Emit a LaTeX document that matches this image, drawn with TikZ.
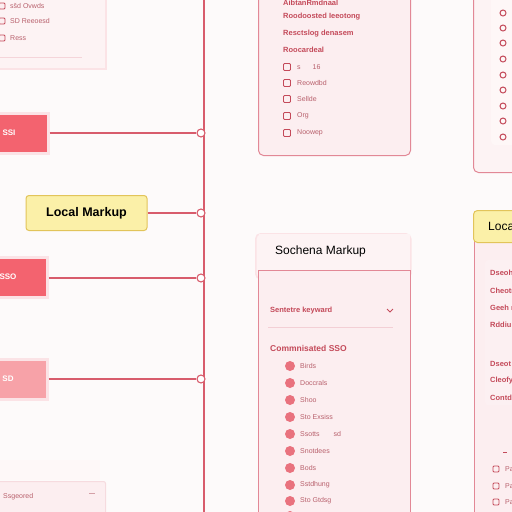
\documentclass[tikz,border=0pt]{standalone}
\usepackage{fontspec}
\setmainfont{Liberation Sans}
\definecolor{bg}{HTML}{FDFAFA}
\definecolor{lred}{HTML}{D85C6C}
\definecolor{tred}{HTML}{C44A5A}
\definecolor{tgray}{HTML}{B8606C}
\definecolor{card}{HTML}{FCEEF0}
\definecolor{cardl}{HTML}{FDF3F4}
\definecolor{cardb}{HTML}{E28896}
\definecolor{boxr}{HTML}{F3636F}
\definecolor{boxp}{HTML}{F7A2A8}
\definecolor{yel}{HTML}{FBF0A8}
\definecolor{yelb}{HTML}{E2C45A}
\definecolor{icon}{HTML}{E9727E}
\definecolor{halo}{HTML}{FBE3E6}
\tikzset{
  conn/.style={draw=lred, line width=1.2pt},
  dot/.style={circle, draw=lred, fill=white, line width=1.1pt, minimum size=8pt, inner sep=0pt},
  redbox/.style={fill=boxr, draw=halo, line width=3pt, minimum height=40pt, minimum width=78pt, inner sep=0pt, text=white, font=\fontsize{8}{9}\selectfont\bfseries},
  yelbox/.style={fill=yel, draw=yelb, line width=1pt, rounded corners=3pt, minimum width=121pt, minimum height=35pt, font=\fontsize{12.5}{14}\selectfont\bfseries},
  cardbox/.style={fill=card, draw=cardb, line width=1pt, rounded corners=5pt},
  lightcard/.style={fill=cardl, draw=halo, line width=1.5pt},
  sm/.style={anchor=west, inner sep=0pt, text=tred, font=\fontsize{7.5}{9}\selectfont\bfseries},
  smg/.style={anchor=west, inner sep=0pt, text=tgray, font=\fontsize{7}{9}\selectfont},
  sqicon/.style={draw=tred, fill=card, line width=0.9pt, minimum size=7pt, inner sep=0pt, rounded corners=1pt},
  rdicon/.style={circle, fill=icon, minimum size=10pt, inner sep=0pt},
  oicon/.style={circle, draw=tred, line width=1pt, minimum size=6pt, inner sep=0pt},
  chev/.style={draw=tred, line width=0.8pt}
}
\begin{document}
\begin{tikzpicture}[x=1pt,y=-1pt]
\useasboundingbox (0,0) rectangle (512,512);
\fill[bg] (0,0) rectangle (512,512);

% vertical spine
\coordinate (vt) at (204,-2);
\coordinate (vb) at (204,514);
\draw[conn] (vt) -- (vb);

% top-left card
\node[lightcard, minimum width=115pt, minimum height=78pt, anchor=north west] (tl) at (-10,-10) {};
\node[sqicon, minimum size=6pt] (tli1) at (2,6) {};
\node[smg] (tlt1) at (10,6) {sšd Ovwds};
\node[sqicon, minimum size=6pt] (tli2) at (2,21) {};
\node[smg] (tlt2) at (10,21) {SD Reeoesd};
\node[sqicon, minimum size=6pt] (tli3) at (2,38) {};
\node[smg] (tlt3) at (10,38) {Ress};
\coordinate (tla) at (0,57);
\coordinate (tlb) at (82,57);
\draw[draw=cardb!35, line width=0.6pt] (tla) -- (tlb);

% left boxes
\node[redbox] (r1) at (9,133) {SSI};
\node[yelbox] (lm) at (86.5,213) {Local Markup};
\node[redbox] (r2) at (8,277) {SSO};
\node[redbox, fill=boxp] (r3) at (8,379) {SD};

% circles and connectors
\node[dot] (c1) at (201,133) {};
\node[dot] (c2) at (201,213) {};
\node[dot] (c3) at (201,278) {};
\node[dot] (c4) at (201,379) {};
\draw[conn] (r1.east) -- (c1);
\draw[conn] (lm.east) -- (c2);
\draw[conn] (r2.east |- c3) -- (c3);
\draw[conn] (r3.east) -- (c4);

% bottom-left card
\node[fill=cardl!60!white, minimum width=110pt, minimum height=20pt, anchor=north west] (bl0) at (-10,460) {};
\node[cardbox, draw=cardb!30, rounded corners=2pt, minimum width=115pt, minimum height=40pt, anchor=north west] (bl) at (-10,481) {};
\node[smg] (blt) at (3,497) {Ssgeored};
\coordinate (blc1) at (89,493);
\coordinate (blc2) at (95,493);
\draw[chev, draw=tgray!60] (blc1) -- (blc2);

% top-middle card
\node[cardbox, minimum width=152pt, minimum height=165pt, anchor=north west] (tm) at (258,-10) {};
\node[sm] (tm1) at (283,3) {AibtanRmdnaal};
\node[sm] (tm2) at (283,17) {Roodoosted Ieeotong};
\node[sm] (tm3) at (283,34) {Resctslog denasem};
\node[sm] (tm4) at (283,50) {Roocardeal};
\node[sqicon] (tmi5) at (287,67) {};
\node[smg] (tm5) at (297,67) {s\hspace{12pt}16};
\node[sqicon] (tmi6) at (287,83) {};
\node[smg] (tm6) at (297,83) {Reowdbd};
\node[sqicon] (tmi7) at (287,99) {};
\node[smg] (tm7) at (297,99) {Sellde};
\node[sqicon] (tmi8) at (287,116) {};
\node[smg] (tm8) at (297,116) {Org};
\node[sqicon] (tmi9) at (287,133) {};
\node[smg] (tm9) at (297,133) {Noowep};

% top-right card
\node[cardbox, fill=cardl, minimum width=60pt, minimum height=182pt, anchor=north west] (tr) at (473,-10) {};
\node[fill=card!80!icon!20, rounded corners=4pt, minimum width=40pt, minimum height=150pt, anchor=north west] (trc) at (491,-5) {};
\foreach \i/\y in {1/13,2/28,3/43,4/59,5/75,6/90,7/106,8/121,9/137} {
  \node[oicon] (tro\i) at (503,\y) {};
}

% Sochena card
\node[fill=cardl, draw=halo, line width=1.5pt, rounded corners=5pt, minimum width=155pt, minimum height=45pt, anchor=north west] (sh) at (255,233) {};
\node[cardbox, fill=card, rounded corners=0pt, minimum width=152pt, minimum height=250pt, anchor=north west] (sb) at (258,270) {};
\node[fill=cardl, minimum width=151pt, minimum height=36pt, anchor=north west, inner sep=0pt] (shf) at (258.5,234) {};
\node[anchor=west, inner sep=0pt, font=\fontsize{12}{14}\selectfont] (sht) at (275,251) {Sochena Markup};
\node[sm] (sk) at (270,311) {Sentetre keyward};
\coordinate (skc1) at (387,309);
\coordinate (skc2) at (390,312);
\coordinate (skc3) at (393,309);
\draw[chev, line width=1pt] (skc1) -- (skc2) -- (skc3);
\coordinate (sda) at (268,327);
\coordinate (sdb) at (393,327);
\draw[draw=cardb!40, line width=0.6pt] (sda) -- (sdb);
\node[sm, font=\fontsize{8.5}{10}\selectfont\bfseries] (cs) at (270,348) {Commnisated SSO};
\foreach \i/\y/\t in {1/366/Birds,2/383/Doccrals,3/400/Shoo,4/417/Sto Exsiss,5/434/Ssotts\hspace{14pt}sd,6/451/Snotdees,7/468/Bods,8/485/Sstdhung,9/501/Sto Gtdsg} {
  \node[rdicon] (si\i) at (290,\y) {};
  \node[smg] (st\i) at (300,\y) {\t};
}
\node[rdicon] (si10) at (290,516) {};

% right card (Local)
\node[cardbox, fill=card, rounded corners=0pt, minimum width=50pt, minimum height=280pt, anchor=north west] (rb) at (474,240) {};
\node[fill=yel, draw=yelb, line width=1pt, rounded corners=4pt, minimum width=50pt, minimum height=32pt, anchor=north west] (rh) at (473,210) {};
\node[anchor=west, inner sep=0pt, font=\fontsize{12}{14}\selectfont] (rht) at (488,226) {Local};
\node[fill=cardl!50!card, minimum width=30pt, minimum height=145pt, anchor=north west, rounded corners=3pt] (rcol) at (485,260) {};
\foreach \i/\y/\t in {1/273/Dseoh,2/291/Cheotr,3/308/Geeh r,4/325/Rddiu,5/364/Dseot,6/381/Cleofy,7/398/Contdc} {
  \node[sm] (rt\i) at (490,\y) {\t};
}
\coordinate (rda) at (503,452);
\coordinate (rdb) at (507,452);
\draw[chev] (rda) -- (rdb);
\foreach \i/\y in {1/469,2/486,3/502} {
  \node[sqicon, minimum size=6pt] (ri\i) at (496,\y) {};
  \node[smg] (rit\i) at (505,\y) {Pa};
}
\end{tikzpicture}
\end{document}
